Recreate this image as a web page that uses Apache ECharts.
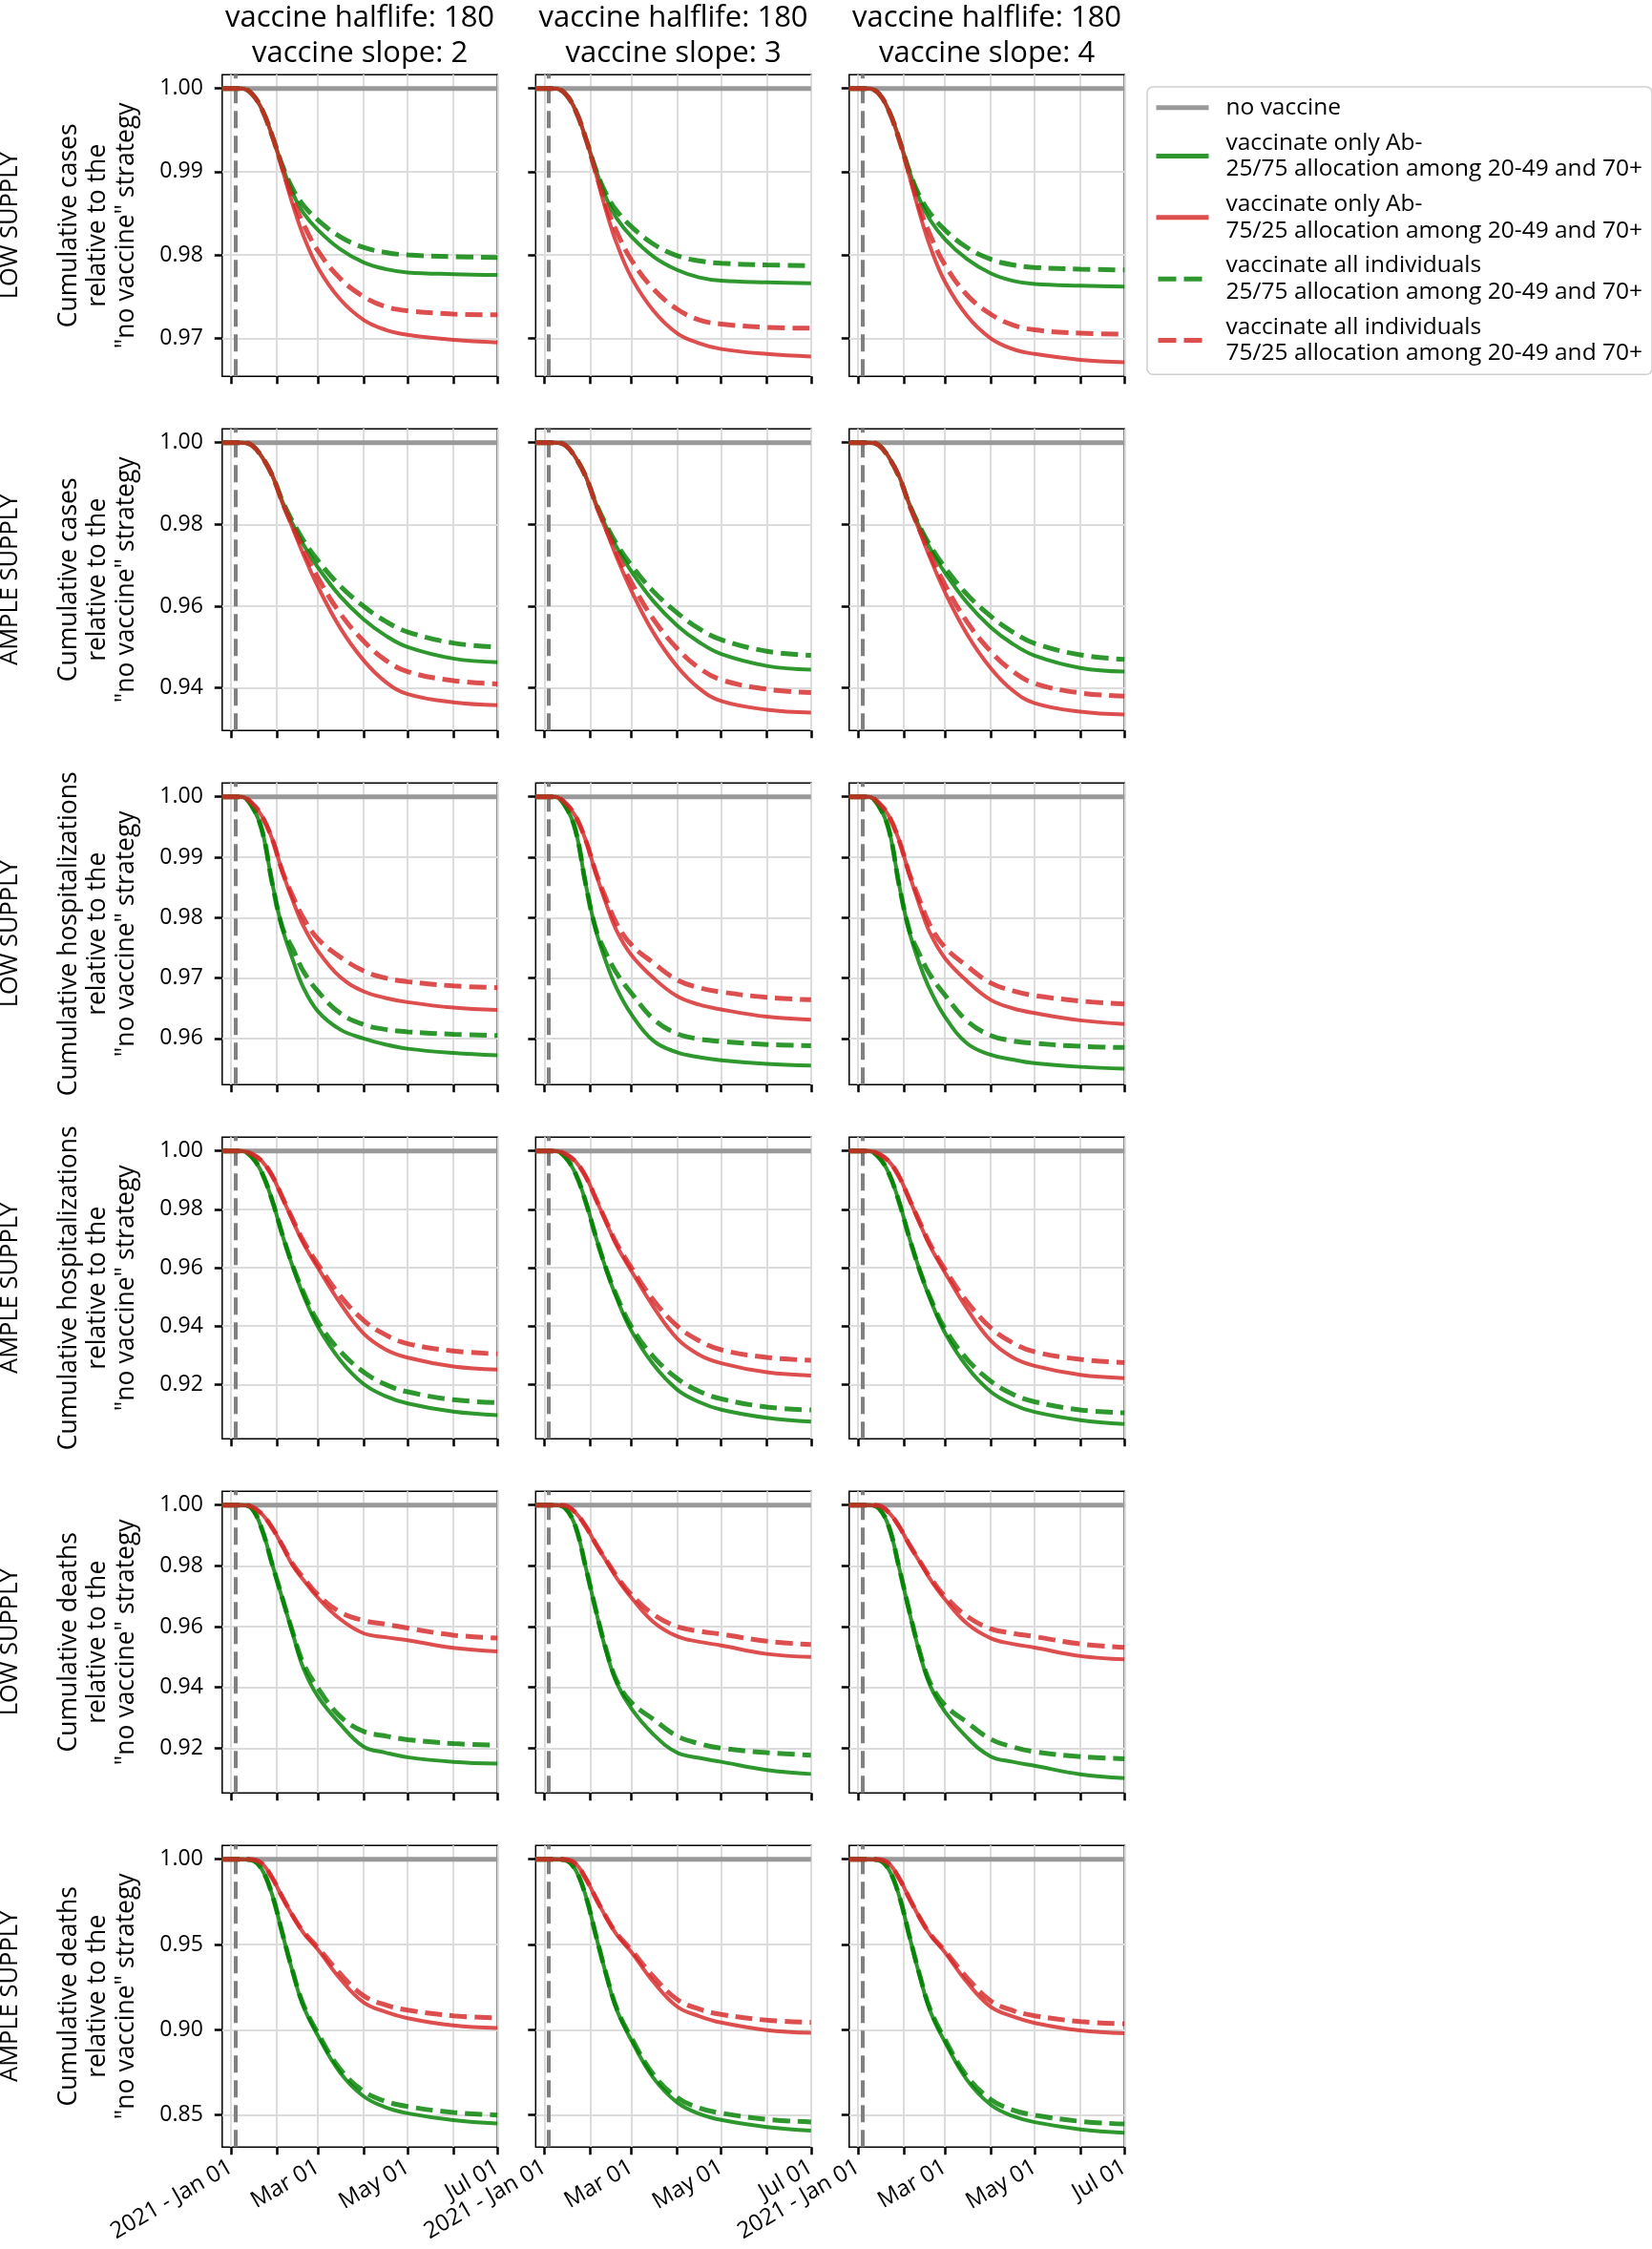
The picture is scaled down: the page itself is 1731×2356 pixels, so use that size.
<!DOCTYPE html>
<html><head><meta charset="utf-8">
<script src="https://cdn.jsdelivr.net/npm/echarts@6/dist/echarts.min.js"></script>
<style>html,body{margin:0;padding:0;background:#fff}#chart{width:1731px;height:2356px}</style>
</head><body><div id="chart"></div>
<script>
// ---------- data ----------
const DATES = ['2020-12-26','2021-01-08','2021-01-15','2021-01-22','2021-01-29','2021-02-05','2021-02-12','2021-02-19','2021-03-01','2021-03-16','2021-04-01','2021-04-16','2021-05-01','2021-06-01','2021-07-01'];
const NO_VACCINE_DATES = ['2020-12-26','2021-07-01'];
const NO_VACCINE_VALUES = [1, 1];
const VACCINE_START = '2021-01-04';
const X_RANGE = ['2020-12-26','2021-07-01'];
const X_TICKS = ['2021-01-01','2021-02-01','2021-03-01','2021-04-01','2021-05-01','2021-06-01','2021-07-01'];
const X_LABEL_DATES = ['2021-01-01','2021-03-01','2021-05-01','2021-07-01'];
const X_LABEL_TEXTS = ['2021 - Jan 01','Mar 01','May 01','Jul 01'];

const COL_TITLES = ['vaccine halflife: 180\nvaccine slope: 2','vaccine halflife: 180\nvaccine slope: 3','vaccine halflife: 180\nvaccine slope: 4'];
const ROW_SUPPLY = ['LOW SUPPLY','AMPLE SUPPLY','LOW SUPPLY','AMPLE SUPPLY','LOW SUPPLY','AMPLE SUPPLY'];
const ROW_LABELS = [
  'Cumulative cases\nrelative to the\n"no vaccine" strategy',
  'Cumulative cases\nrelative to the\n"no vaccine" strategy',
  'Cumulative hospitalizations\nrelative to the\n"no vaccine" strategy',
  'Cumulative hospitalizations\nrelative to the\n"no vaccine" strategy',
  'Cumulative deaths\nrelative to the\n"no vaccine" strategy',
  'Cumulative deaths\nrelative to the\n"no vaccine" strategy'
];
const Y_TICKS = [
  [0.97,0.98,0.99,1.00],
  [0.94,0.96,0.98,1.00],
  [0.96,0.97,0.98,0.99,1.00],
  [0.92,0.94,0.96,0.98,1.00],
  [0.92,0.94,0.96,0.98,1.00],
  [0.85,0.90,0.95,1.00]
];
const Y_LIMITS = [
  [0.96541,1.00165],
  [0.9296,1.00335],
  [0.95235,1.00227],
  [0.9014,1.0047],
  [0.90524,1.00451],
  [0.83116,1.00804]
];
const LEGEND_NAMES = [
  'no vaccine',
  'vaccinate only Ab-\n25/75 allocation among 20-49 and 70+',
  'vaccinate only Ab-\n75/25 allocation among 20-49 and 70+',
  'vaccinate all individuals\n25/75 allocation among 20-49 and 70+',
  'vaccinate all individuals\n75/25 allocation among 20-49 and 70+'
];

// each array: [slope 2, slope 3, slope 4]
const CASES_LOW_AB_2575 = [
  [1,1,.9994,.9975,.9943,.9906,.9874,.9851,.9830,.9807,.9791,.9783,.9779,.9777,.9776],
  [1,1,.9994,.9974,.9940,.9902,.9868,.9844,.9822,.9798,.9782,.9773,.9769,.9767,.9766],
  [1,1,.9994,.9973,.9939,.9900,.9866,.9842,.9819,.9795,.9778,.9769,.9765,.9763,.9762]
];
const CASES_LOW_AB_7525 = [
  [1,1,.9994,.9975,.9943,.9902,.9860,.9824,.9785,.9747,.9722,.9710,.9704,.9698,.9695],
  [1,1,.9994,.9974,.9940,.9897,.9852,.9814,.9773,.9733,.9706,.9694,.9687,.9681,.9678],
  [1,1,.9994,.9973,.9939,.9894,.9849,.9810,.9768,.9727,.9700,.9687,.9681,.9674,.9671]
];
const CASES_LOW_ALL_2575 = [
  [1,1,.9994,.9975,.9943,.9907,.9879,.9860,.9842,.9822,.9809,.9803,.9800,.9798,.9797],
  [1,1,.9994,.9974,.9940,.9902,.9873,.9853,.9834,.9813,.9799,.9793,.9790,.9788,.9787],
  [1,1,.9994,.9973,.9939,.9900,.9870,.9850,.9830,.9809,.9795,.9788,.9785,.9783,.9782]
];
const CASES_LOW_ALL_7525 = [
  [1,1,.9994,.9975,.9943,.9904,.9867,.9838,.9805,.9772,.9750,.9738,.9733,.9729,.9728],
  [1,1,.9994,.9974,.9940,.9898,.9859,.9828,.9794,.9759,.9735,.9722,.9717,.9713,.9712],
  [1,1,.9994,.9973,.9938,.9896,.9856,.9824,.9788,.9752,.9729,.9716,.9710,.9706,.9705]
];

const CASES_AMPLE_AB_2575 = [
  [1,1,.9994,.9965,.9920,.9855,.9800,.9752,.9695,.9625,.9568,.9528,.9500,.9472,.9463],
  [1,1,.9994,.9964,.9917,.9850,.9793,.9744,.9685,.9612,.9553,.9512,.9483,.9454,.9445],
  [1,1,.9994,.9964,.9917,.9849,.9791,.9741,.9682,.9609,.9549,.9508,.9479,.9449,.9440]
];
const CASES_AMPLE_AB_7525 = [
  [1,1,.9994,.9965,.9920,.9851,.9790,.9728,.9648,.9548,.9468,.9415,.9385,.9365,.9358],
  [1,1,.9994,.9964,.9918,.9847,.9784,.9720,.9638,.9535,.9453,.9399,.9368,.9347,.9340],
  [1,1,.9994,.9964,.9917,.9846,.9782,.9718,.9635,.9532,.9449,.9394,.9363,.9342,.9335]
];
const CASES_AMPLE_ALL_2575 = [
  [1,1,.9994,.9965,.9920,.9857,.9806,.9762,.9712,.9650,.9600,.9563,.9537,.9510,.9500],
  [1,1,.9994,.9964,.9917,.9851,.9798,.9752,.9700,.9636,.9584,.9545,.9518,.9490,.9480],
  [1,1,.9994,.9963,.9915,.9848,.9794,.9748,.9695,.9629,.9576,.9537,.9509,.9481,.9470]
];
const CASES_AMPLE_ALL_7525 = [
  [1,1,.9994,.9965,.9920,.9853,.9795,.9740,.9670,.9583,.9515,.9468,.9440,.9418,.9410],
  [1,1,.9994,.9964,.9917,.9848,.9788,.9731,.9658,.9568,.9497,.9449,.9420,.9397,.9389],
  [1,1,.9994,.9963,.9916,.9846,.9785,.9727,.9653,.9562,.9490,.9441,.9411,.9388,.9380]
];

const HOSP_LOW_AB_2575 = [
  [1,1,.9985,.9945,.9857,.9781,.9730,.9685,.9645,.9615,.9600,.9590,.9583,.9576,.9572],
  [1,1,.9985,.9945,.9855,.9778,.9725,.9683,.9640,.9596,.9577,.9569,.9564,.9558,.9555],
  [1,1,.9985,.9945,.9853,.9775,.9722,.9680,.9636,.9592,.9573,.9565,.9559,.9553,.9550]
];
const HOSP_LOW_AB_7525 = [
  [1,1,.9990,.9968,.9930,.9875,.9828,.9787,.9745,.9702,.9678,.9667,.9660,.9651,.9647],
  [1,1,.9990,.9968,.9928,.9872,.9822,.9778,.9738,.9700,.9670,.9656,.9648,.9636,.9631],
  [1,1,.9990,.9968,.9927,.9870,.9819,.9774,.9733,.9695,.9664,.9650,.9642,.9630,.9624]
];
const HOSP_LOW_ALL_2575 = [
  [1,1,.9985,.9945,.9857,.9783,.9748,.9712,.9678,.9642,.9623,.9615,.9611,.9607,.9605],
  [1,1,.9985,.9945,.9855,.9780,.9740,.9708,.9675,.9632,.9608,.9599,.9595,.9590,.9588],
  [1,1,.9985,.9945,.9853,.9778,.9738,.9705,.9672,.9629,.9605,.9596,.9592,.9587,.9585]
];
const HOSP_LOW_ALL_7525 = [
  [1,1,.9990,.9968,.9930,.9876,.9835,.9800,.9765,.9735,.9712,.9700,.9694,.9687,.9684],
  [1,1,.9990,.9968,.9928,.9874,.9830,.9790,.9755,.9725,.9697,.9684,.9677,.9668,.9664],
  [1,1,.9990,.9968,.9927,.9872,.9828,.9787,.9751,.9720,.9692,.9679,.9671,.9662,.9657]
];

const HOSP_AMPLE_AB_2575 = [
  [1,1,.9980,.9925,.9830,.9710,.9602,.9508,.9398,.9285,.9202,.9160,.9135,.9107,.9095],
  [1,1,.9980,.9923,.9826,.9703,.9592,.9496,.9384,.9268,.9183,.9140,.9114,.9086,.9073],
  [1,1,.9979,.9923,.9824,.9700,.9589,.9492,.9378,.9261,.9176,.9132,.9106,.9078,.9065]
];
const HOSP_AMPLE_AB_7525 = [
  [1,1,.9990,.9965,.9915,.9838,.9760,.9685,.9600,.9480,.9375,.9320,.9292,.9262,.9251],
  [1,1,.9990,.9964,.9913,.9834,.9754,.9676,.9589,.9466,.9358,.9302,.9273,.9242,.9231],
  [1,1,.9990,.9964,.9912,.9832,.9751,.9673,.9584,.9460,.9351,.9293,.9264,.9233,.9222]
];
const HOSP_AMPLE_ALL_2575 = [
  [1,1,.9980,.9925,.9830,.9712,.9606,.9518,.9415,.9315,.9243,.9200,.9175,.9148,.9138],
  [1,1,.9979,.9923,.9825,.9704,.9595,.9504,.9398,.9295,.9221,.9177,.9151,.9123,.9113],
  [1,1,.9979,.9922,.9823,.9700,.9590,.9498,.9391,.9287,.9212,.9167,.9141,.9113,.9103]
];
const HOSP_AMPLE_ALL_7525 = [
  [1,1,.9990,.9965,.9915,.9840,.9765,.9693,.9612,.9505,.9420,.9370,.9340,.9315,.9305],
  [1,1,.9990,.9964,.9912,.9835,.9757,.9683,.9600,.9489,.9401,.9350,.9319,.9293,.9283],
  [1,1,.9990,.9964,.9911,.9833,.9755,.9680,.9595,.9484,.9395,.9343,.9312,.9286,.9275]
];

const DEATHS_LOW_AB_2575 = [
  [1,1,.9990,.9920,.9805,.9690,.9575,.9465,.9370,.9280,.9205,.9185,.9170,.9155,.9149],
  [1,1,.9990,.9930,.9795,.9650,.9517,.9415,.9330,.9245,.9185,.9168,.9155,.9128,.9115],
  [1,1,.9990,.9928,.9792,.9645,.9510,.9405,.9320,.9235,.9173,.9155,.9142,.9114,.9101]
];
const DEATHS_LOW_AB_7525 = [
  [1,1,.9995,.9970,.9925,.9865,.9800,.9755,.9695,.9625,.9578,.9565,.9555,.9530,.9518],
  [1,1,.9998,.9975,.9930,.9870,.9815,.9760,.9695,.9615,.9568,.9550,.9538,.9510,.9500],
  [1,1,.9998,.9975,.9929,.9868,.9812,.9756,.9690,.9610,.9562,.9543,.9531,.9503,.9492]
];
const DEATHS_LOW_ALL_2575 = [
  [1,1,.9990,.9920,.9805,.9692,.9580,.9480,.9398,.9305,.9255,.9240,.9228,.9215,.9210],
  [1,1,.9990,.9930,.9795,.9652,.9522,.9422,.9350,.9295,.9240,.9215,.9200,.9185,.9177],
  [1,1,.9990,.9928,.9792,.9648,.9516,.9415,.9342,.9285,.9230,.9204,.9188,.9172,.9165]
];
const DEATHS_LOW_ALL_7525 = [
  [1,1,.9995,.9970,.9925,.9866,.9805,.9762,.9705,.9648,.9620,.9608,.9595,.9572,.9562],
  [1,1,.9998,.9975,.9930,.9871,.9818,.9766,.9705,.9640,.9600,.9585,.9575,.9552,.9541],
  [1,1,.9998,.9975,.9929,.9869,.9815,.9762,.9700,.9634,.9593,.9578,.9567,.9543,.9532]
];

const DEATHS_AMPLE_AB_2575 = [
  [1,1,.9995,.9940,.9790,.9560,.9335,.9140,.8965,.8750,.8610,.8545,.8510,.8470,.8450],
  [1,1,.9995,.9938,.9785,.9549,.9318,.9118,.8938,.8717,.8574,.8507,.8471,.8430,.8409],
  [1,1,.9995,.9938,.9783,.9545,.9312,.9110,.8929,.8706,.8561,.8494,.8458,.8416,.8396]
];
const DEATHS_AMPLE_AB_7525 = [
  [1,1,.9998,.9975,.9890,.9775,.9665,.9570,.9470,.9300,.9160,.9105,.9068,.9025,.9010],
  [1,1,.9998,.9974,.9887,.9769,.9656,.9558,.9455,.9280,.9136,.9080,.9042,.8998,.8982],
  [1,1,.9998,.9974,.9887,.9768,.9655,.9557,.9454,.9279,.9135,.9078,.9040,.8996,.8980]
];
const DEATHS_AMPLE_ALL_2575 = [
  [1,1,.9995,.9940,.9790,.9562,.9340,.9150,.8980,.8770,.8640,.8580,.8550,.8515,.8500],
  [1,1,.9995,.9938,.9784,.9550,.9322,.9127,.8952,.8737,.8603,.8542,.8511,.8475,.8459],
  [1,1,.9995,.9938,.9783,.9547,.9317,.9120,.8944,.8727,.8592,.8530,.8499,.8463,.8447]
];
const DEATHS_AMPLE_ALL_7525 = [
  [1,1,.9998,.9975,.9890,.9776,.9668,.9577,.9482,.9330,.9200,.9145,.9115,.9082,.9069],
  [1,1,.9998,.9974,.9887,.9770,.9659,.9565,.9467,.9311,.9178,.9121,.9090,.9056,.9043],
  [1,1,.9998,.9974,.9886,.9768,.9656,.9561,.9463,.9305,.9170,.9113,.9082,.9048,.9035]
];

const ROW_SERIES = [
  [CASES_LOW_AB_2575, CASES_LOW_AB_7525, CASES_LOW_ALL_2575, CASES_LOW_ALL_7525],
  [CASES_AMPLE_AB_2575, CASES_AMPLE_AB_7525, CASES_AMPLE_ALL_2575, CASES_AMPLE_ALL_7525],
  [HOSP_LOW_AB_2575, HOSP_LOW_AB_7525, HOSP_LOW_ALL_2575, HOSP_LOW_ALL_7525],
  [HOSP_AMPLE_AB_2575, HOSP_AMPLE_AB_7525, HOSP_AMPLE_ALL_2575, HOSP_AMPLE_ALL_7525],
  [DEATHS_LOW_AB_2575, DEATHS_LOW_AB_7525, DEATHS_LOW_ALL_2575, DEATHS_LOW_ALL_7525],
  [DEATHS_AMPLE_AB_2575, DEATHS_AMPLE_AB_7525, DEATHS_AMPLE_ALL_2575, DEATHS_AMPLE_ALL_7525]
];

// ---------- layout & style ----------
const FONT = '"Open Sans", "Noto Sans", sans-serif';
const GRID_LEFTS = [232.8, 561.3, 889.8];
const GRID_W = 288.5;
const GRID_TOPS = [78.3, 449.3, 820.3, 1191.3, 1562.3, 1933.3];
const GRID_H = 316;
const GREEN = '#008000', RED = '#d62728', GREY = '#999999';
const STYLES = [
  {color: GREEN, width: 4, type: 'solid'},
  {color: RED, width: 4, type: 'solid'},
  {color: GREEN, width: 5, type: [18, 8]},
  {color: RED, width: 5, type: [18, 8]}
];

function toTs(s) { const p = s.split('-').map(Number); return new Date(p[0], p[1] - 1, p[2]).getTime(); }
const X_TICK_TS = X_TICKS.map(toTs);
const X_LABEL_TS = X_LABEL_DATES.map(toTs);

const grids = [], xAxes = [], yAxes = [], series = [], graphics = [];
for (let r = 0; r < 6; r++) {
  for (let c = 0; c < 3; c++) {
    const gi = r * 3 + c;
    grids.push({
      left: GRID_LEFTS[c], top: GRID_TOPS[r], width: GRID_W, height: GRID_H,
      show: true, borderColor: '#000', borderWidth: 1.5, backgroundColor: 'transparent',
      containLabel: false, outerBoundsMode: 'none'
    });
    xAxes.push({
      type: 'value', gridIndex: gi, min: toTs(X_RANGE[0]), max: toTs(X_RANGE[1]),
      axisLine: {show: false},
      axisTick: {show: true, customValues: X_TICK_TS, length: 8, inside: false, lineStyle: {color: '#000', width: 2.5}},
      axisLabel: {
        show: r === 5, customValues: X_LABEL_TS, rotate: 30, margin: 19,
        fontSize: 24, fontFamily: FONT, color: '#000',
        formatter: function (v) { const i = X_LABEL_TS.indexOf(Number(v)); return i >= 0 ? X_LABEL_TEXTS[i] : ''; }
      },
      splitLine: {show: true, lineStyle: {color: '#dcdcdc', width: 2}}
    });
    yAxes.push({
      type: 'value', gridIndex: gi, min: Y_LIMITS[r][0], max: Y_LIMITS[r][1],
      axisLine: {show: false},
      axisTick: {show: true, customValues: Y_TICKS[r], length: 8, inside: false, lineStyle: {color: '#000', width: 2.5}},
      axisLabel: {
        show: c === 0, customValues: Y_TICKS[r], margin: 20,
        fontSize: 23, fontFamily: FONT, color: '#000',
        formatter: function (v) { return Number(v).toFixed(2); }
      },
      splitLine: {show: true, lineStyle: {color: '#dcdcdc', width: 2}}
    });
    series.push({
      name: LEGEND_NAMES[0], type: 'line', xAxisIndex: gi, yAxisIndex: gi,
      data: NO_VACCINE_DATES.map((d, i) => [toTs(d), NO_VACCINE_VALUES[i]]),
      symbol: 'none', showSymbol: false, z: 2,
      lineStyle: {color: GREY, width: 5}, itemStyle: {color: GREY},
      markLine: {
        silent: true, symbol: ['none', 'none'], label: {show: false}, animation: false,
        lineStyle: {color: '#808080', width: 4, type: [18, 8], opacity: 1},
        data: [{xAxis: toTs(VACCINE_START)}]
      }
    });
    for (let s = 0; s < 4; s++) {
      const vals = ROW_SERIES[r][s][c];
      series.push({
        name: LEGEND_NAMES[s + 1], type: 'line', xAxisIndex: gi, yAxisIndex: gi,
        data: DATES.map((d, i) => [toTs(d), vals[i]]),
        symbol: 'none', showSymbol: false, smooth: 0.4, z: 3 + s,
        lineStyle: {color: STYLES[s].color, width: STYLES[s].width, type: STYLES[s].type, opacity: 0.82},
        itemStyle: {color: STYLES[s].color}
      });
    }
  }
}

for (let c = 0; c < 3; c++) {
  graphics.push({
    type: 'text', x: GRID_LEFTS[c] + GRID_W / 2, y: 1,
    style: {text: COL_TITLES[c], fill: '#000', fontSize: 31, fontFamily: FONT, lineHeight: 37,
      align: 'center', verticalAlign: 'top', textAlign: 'center', textVerticalAlign: 'top'}
  });
}
for (let r = 0; r < 6; r++) {
  const cy = GRID_TOPS[r] + GRID_H / 2;
  graphics.push({
    type: 'text', x: 11, y: cy, rotation: Math.PI / 2,
    style: {text: ROW_SUPPLY[r], fill: '#000', fontSize: 25.5, fontFamily: FONT,
      align: 'center', verticalAlign: 'middle', textAlign: 'center', textVerticalAlign: 'middle'}
  });
  graphics.push({
    type: 'text', x: 102.5, y: cy, rotation: Math.PI / 2,
    style: {text: ROW_LABELS[r], fill: '#000', fontSize: 26.5, fontFamily: FONT, lineHeight: 30,
      align: 'center', verticalAlign: 'middle', textAlign: 'center', textVerticalAlign: 'middle'}
  });
}

const LEGEND_DASH = {type: [19, 8], dashOffset: 25};
const chart = echarts.init(document.getElementById('chart'), null, {renderer: 'canvas', width: 1731, height: 2356});
chart.setOption({
  animation: false,
  backgroundColor: '#ffffff',
  textStyle: {fontFamily: FONT},
  grid: grids, xAxis: xAxes, yAxis: yAxes, series: series,
  legend: {
    data: [
      {name: LEGEND_NAMES[0]},
      {name: LEGEND_NAMES[1]},
      {name: LEGEND_NAMES[2]},
      {name: LEGEND_NAMES[3], lineStyle: LEGEND_DASH},
      {name: LEGEND_NAMES[4], lineStyle: LEGEND_DASH}
    ],
    orient: 'vertical', left: 1202, top: 91,
    itemWidth: 55, itemHeight: 14, itemGap: 9,
    padding: [8, 10, 8, 7],
    borderColor: '#cfcfcf', borderWidth: 1.5, borderRadius: 6, backgroundColor: '#ffffff',
    itemStyle: {opacity: 0, borderWidth: 0},
    lineStyle: {width: 5},
    textStyle: {fontSize: 24.5, fontFamily: FONT, color: '#000', lineHeight: 27.7, padding: [0, 0, 0, 13]},
    selectedMode: false
  },
  graphic: graphics
});
</script></body></html>
